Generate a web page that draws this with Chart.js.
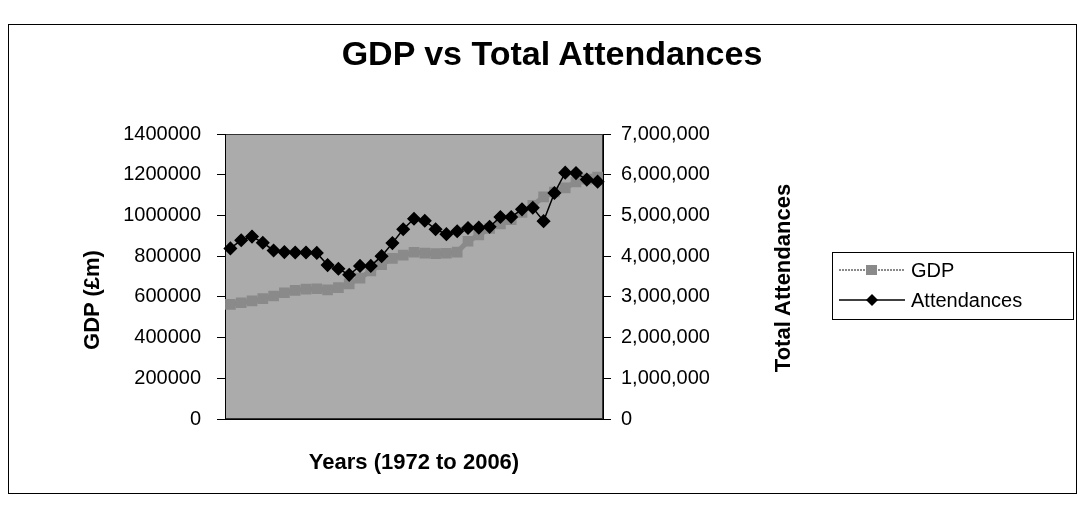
<!DOCTYPE html>
<html>
<head>
<meta charset="utf-8">
<script src="https://cdn.jsdelivr.net/npm/chart.js@4/dist/chart.umd.min.js"></script>
<style>
  body { margin: 0; background: #fff; font-family: "Liberation Sans", Arial, sans-serif; }
  #wrap { position: relative; width: 1084px; height: 506px; }
  #frame { position: absolute; left: 8px; top: 24px; width: 1067px; height: 468px; border: 1px solid #000; }
  #title { position: absolute; left: 552px; top: 53px; transform: translate(-50%, -50%); font-size: 34px; font-weight: bold; white-space: nowrap; }
  .ytitle { position: absolute; font-size: 22px; font-weight: bold; white-space: nowrap; transform: translate(-50%, -50%) rotate(-90deg); }
  #legend { position: absolute; left: 832px; top: 252px; width: 240px; height: 66px; border: 1px solid #000; background: #fff; }
  .item { position: absolute; left: 6px; height: 26px; display: flex; align-items: center; font-size: 20px; color: #000; }
  .item svg { margin-right: 6px; }
</style>
</head>
<body>
<div id="wrap">
  <div id="frame"></div>
  <canvas id="chart" width="1084" height="506"></canvas>
  <div id="title">GDP vs Total Attendances</div>
  <div class="ytitle" style="left:92px; top:300px">GDP (£m)</div>
  <div class="ytitle" style="left:783px; top:278px">Total Attendances</div>
  <div id="legend">
    <div class="item" style="top:4px">
      <svg width="66" height="14"><line x1="0" y1="7" x2="66" y2="7" stroke="#8a8a8a" stroke-width="2" stroke-dasharray="2 1"/><rect x="27" y="2" width="11" height="10" fill="#8a8a8a"/></svg>GDP
    </div>
    <div class="item" style="top:34px">
      <svg width="66" height="16"><line x1="0" y1="8" x2="66" y2="8" stroke="#000" stroke-width="1.5"/><polygon points="33,2 39,8 33,14 27,8" fill="#000"/></svg>Attendances
    </div>
  </div>
</div>
<script>
// 1972 .. 2006
const years = [];
for (let y = 1972; y <= 2006; y++) years.push(String(y));

// GDP (£m)
const gdp = [563000, 571000, 580000, 591000, 604000, 620000, 632000, 638000, 640000, 634000,
  645000, 664000, 692000, 728000, 758000, 789000, 805000, 819000, 815000, 812000,
  814000, 820000, 873000, 904000, 936000, 958000, 979000, 1015000, 1050000, 1091000,
  1115000, 1135000, 1164000, 1178000, 1188000];

// total attendances
const attendances = [4190000, 4390000, 4480000, 4330000, 4140000, 4100000, 4090000, 4090000, 4080000, 3780000,
  3690000, 3540000, 3760000, 3760000, 4000000, 4320000, 4660000, 4920000, 4870000, 4660000,
  4540000, 4610000, 4690000, 4700000, 4720000, 4960000, 4960000, 5150000, 5190000, 4860000,
  5550000, 6050000, 6040000, 5880000, 5830000];

const gdpTicks = [0, 200000, 400000, 600000, 800000, 1000000, 1200000, 1400000];
const attTicks = [0, 1000000, 2000000, 3000000, 4000000, 5000000, 6000000, 7000000];

Chart.defaults.font.family = '"Liberation Sans", Arial, sans-serif';
Chart.defaults.color = '#000';

// gray plot area like the excel chart
const plotBg = {
  id: 'plotBg',
  beforeDraw(chart) {
    const { ctx, chartArea: a } = chart;
    ctx.save();
    ctx.fillStyle = '#ababab';
    ctx.fillRect(a.left, a.top, a.right - a.left, a.bottom - a.top);
    ctx.strokeStyle = '#333';
    ctx.lineWidth = 1;
    ctx.strokeRect(a.left + 0.5, a.top + 0.5, a.right - a.left - 1, a.bottom - a.top - 1);
    ctx.restore();
  }
};

new Chart(document.getElementById('chart'), {
  type: 'line',
  data: {
    labels: years,
    datasets: [
      {
        label: 'GDP',
        data: gdp,
        yAxisID: 'y',
        borderColor: '#8a8a8a',
        borderWidth: 5,
        pointStyle: 'rect',
        pointRadius: 4,
        pointBackgroundColor: '#8a8a8a',
        pointBorderColor: '#8a8a8a',
        tension: 0,
        order: 1
      },
      {
        label: 'Attendances',
        data: attendances,
        yAxisID: 'y1',
        borderColor: '#000',
        borderWidth: 1.5,
        pointStyle: 'rectRot',
        pointRadius: 6,
        pointBackgroundColor: '#000',
        pointBorderColor: '#000',
        tension: 0,
        order: 0
      }
    ]
  },
  options: {
    responsive: false,
    animation: false,
    layout: { padding: { left: 80, right: 289, top: 134, bottom: 30 } },
    plugins: {
      legend: { display: false },
      tooltip: { enabled: false }
    },
    scales: {
      x: {
        offset: true,
        grid: { display: false, drawTicks: false },
        border: { display: true, color: '#000', width: 1 },
        ticks: { display: false },
        title: { display: true, text: 'Years (1972 to 2006)', font: { size: 22, weight: 'bold' }, padding: { top: 30, bottom: 0 } },
        afterFit(s) { s.height = 57; }
      },
      y: {
        position: 'left',
        min: 0,
        max: 1400000,
        afterBuildTicks(s) { s.ticks = gdpTicks.map(v => ({ value: v })); },
        ticks: { font: { size: 20 }, padding: 16, callback: v => String(v) },
        grid: { drawOnChartArea: false, drawTicks: true, tickLength: 8, color: '#000' },
        border: { display: true, color: '#000', width: 1 },
        afterFit(s) { s.width = 145; }
      },
      y1: {
        position: 'right',
        min: 0,
        max: 7000000,
        afterBuildTicks(s) { s.ticks = attTicks.map(v => ({ value: v })); },
        ticks: { font: { size: 20 }, padding: 10, callback: v => v.toLocaleString('en-US') },
        grid: { drawOnChartArea: false, drawTicks: true, tickLength: 8, color: '#000' },
        border: { display: true, color: '#000', width: 1 },
        afterFit(s) { s.width = 192; }
      }
    }
  },
  plugins: [plotBg]
});
</script>
</body>
</html>
